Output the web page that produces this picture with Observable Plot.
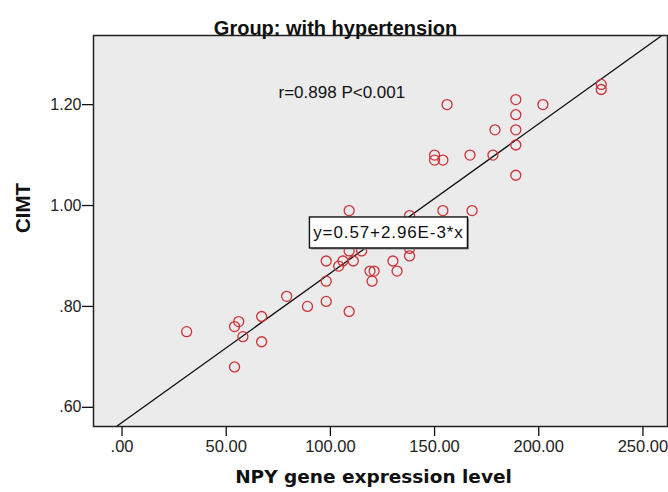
<!DOCTYPE html>
<html>
<head>
<meta charset="utf-8">
<script src="https://cdn.jsdelivr.net/npm/d3@7"></script>
<script src="https://cdn.jsdelivr.net/npm/@observablehq/plot@0.6"></script>
<style>
  html, body { margin: 0; padding: 0; background: #fff; }
  #chart svg { display: block; }
</style>
</head>
<body>
<div id="chart"></div>
<script>
// ---- data ----
const npy  = [31, 54, 54, 56, 58, 67, 67, 79, 89, 98, 98, 98, 104, 106, 109, 109, 109, 111, 115,
              119, 121, 120, 130, 132, 138, 138, 138, 150, 150, 154, 154, 156, 167, 168, 178, 179,
              189, 189, 189, 189, 189, 202, 230, 230];
const cimt = [0.75, 0.68, 0.76, 0.77, 0.74, 0.78, 0.73, 0.82, 0.80, 0.89, 0.85, 0.81, 0.88, 0.89, 0.99, 0.91, 0.79, 0.89, 0.91,
              0.87, 0.87, 0.85, 0.89, 0.87, 0.98, 0.915, 0.90, 1.10, 1.09, 1.09, 0.99, 1.20, 1.10, 0.99, 1.10, 1.15,
              1.21, 1.18, 1.15, 1.12, 1.06, 1.20, 1.24, 1.23];
const xTicks = [0, 50, 100, 150, 200, 250];
const yTicks = [0.60, 0.80, 1.00, 1.20];
const xDomain = [-13.7, 261.8];
const yDomain = [0.562, 1.337];
const intercept = 0.57;
const slope = 2.96e-3;
const title = "Group: with hypertension";
const xLabel = "NPY gene expression level";
const yLabel = "CIMT";
const statText = "r=0.898 P<0.001";
const statPos = {x: 105.5, y: 1.224};
const eqText = "y=0.57+2.96E-3*x";
const eqPos = {x: 128.1, y: 0.9456};

const points = npy.map((v, i) => ({x: v, y: cimt[i]}));
const fitLine = xDomain.map(v => ({x: v, y: intercept + slope * v}));
const fmt = d => d3.format(".2f")(d).replace(/^0\./, ".");

function eqBox(index, scales) {
  const cx = scales.x(eqPos.x), cy = scales.y(eqPos.y);
  const w = 158, h = 31;
  const g = d3.create("svg:g");
  g.append("rect").attr("x", cx - w / 2 + 1.5).attr("y", cy - h / 2 + 1.5)
    .attr("width", w).attr("height", h).attr("fill", "#8a8a8a");
  g.append("rect").attr("x", cx - w / 2).attr("y", cy - h / 2)
    .attr("width", w).attr("height", h).attr("fill", "#fff")
    .attr("stroke", "#111").attr("stroke-width", 1.4);
  g.append("text").attr("x", cx).attr("y", cy).attr("dy", "0.35em")
    .attr("text-anchor", "middle").attr("font-size", 17).attr("letter-spacing", 0.9)
    .attr("font-family", "Liberation Sans, Arial, sans-serif").attr("fill", "#111")
    .text(eqText);
  return g.node();
}

const chart = Plot.plot({
  width: 668,
  height: 492,
  marginLeft: 93,
  marginRight: 1,
  marginTop: 35,
  marginBottom: 66,
  style: {background: "#fff", fontFamily: "Liberation Sans, Arial, sans-serif", color: "#111"},
  x: {domain: xDomain, label: null},
  y: {domain: yDomain, label: null},
  marks: [
    Plot.frame({fill: "#ebebeb"}),
    Plot.axisX({ticks: xTicks, tickFormat: fmt, tickSize: 10, tickPadding: 4, fontSize: 16.5, label: null, stroke: "#111", strokeWidth: 1.3, fill: "#222"}),
    Plot.axisY({ticks: yTicks, tickFormat: fmt, tickSize: 11, tickPadding: 1, fontSize: 16, label: null, stroke: "#111", strokeWidth: 1.3, fill: "#222"}),
    Plot.line(fitLine, {x: "x", y: "y", stroke: "#111", strokeWidth: 1.3, clip: true}),
    Plot.dot(points, {x: "x", y: "y", r: 5, stroke: "#cc3339", strokeWidth: 1.3, fill: "none"}),
    Plot.frame({stroke: "#222", strokeWidth: 1.5}),
    Plot.text([statText], {x: statPos.x, y: statPos.y, text: d => d, fontSize: 17, fill: "#111", letterSpacing: 0.7}),
    eqBox,
    Plot.text([title], {frameAnchor: "top", text: d => d, dx: -45, dy: -15, fontSize: 20, fontWeight: "bold", fill: "#111"}),
    Plot.text([xLabel], {frameAnchor: "bottom", text: d => d, dx: -7, dy: 56, fontSize: 18.5, fontWeight: "bold", fontFamily: "DejaVu Sans", fill: "#111"}),
    Plot.text([yLabel], {frameAnchor: "left", text: d => d, dx: -70, dy: 2, rotate: -90, fontSize: 20.5, fontWeight: "bold", fill: "#111"})
  ]
});
document.getElementById("chart").appendChild(chart);
</script>
</body>
</html>
